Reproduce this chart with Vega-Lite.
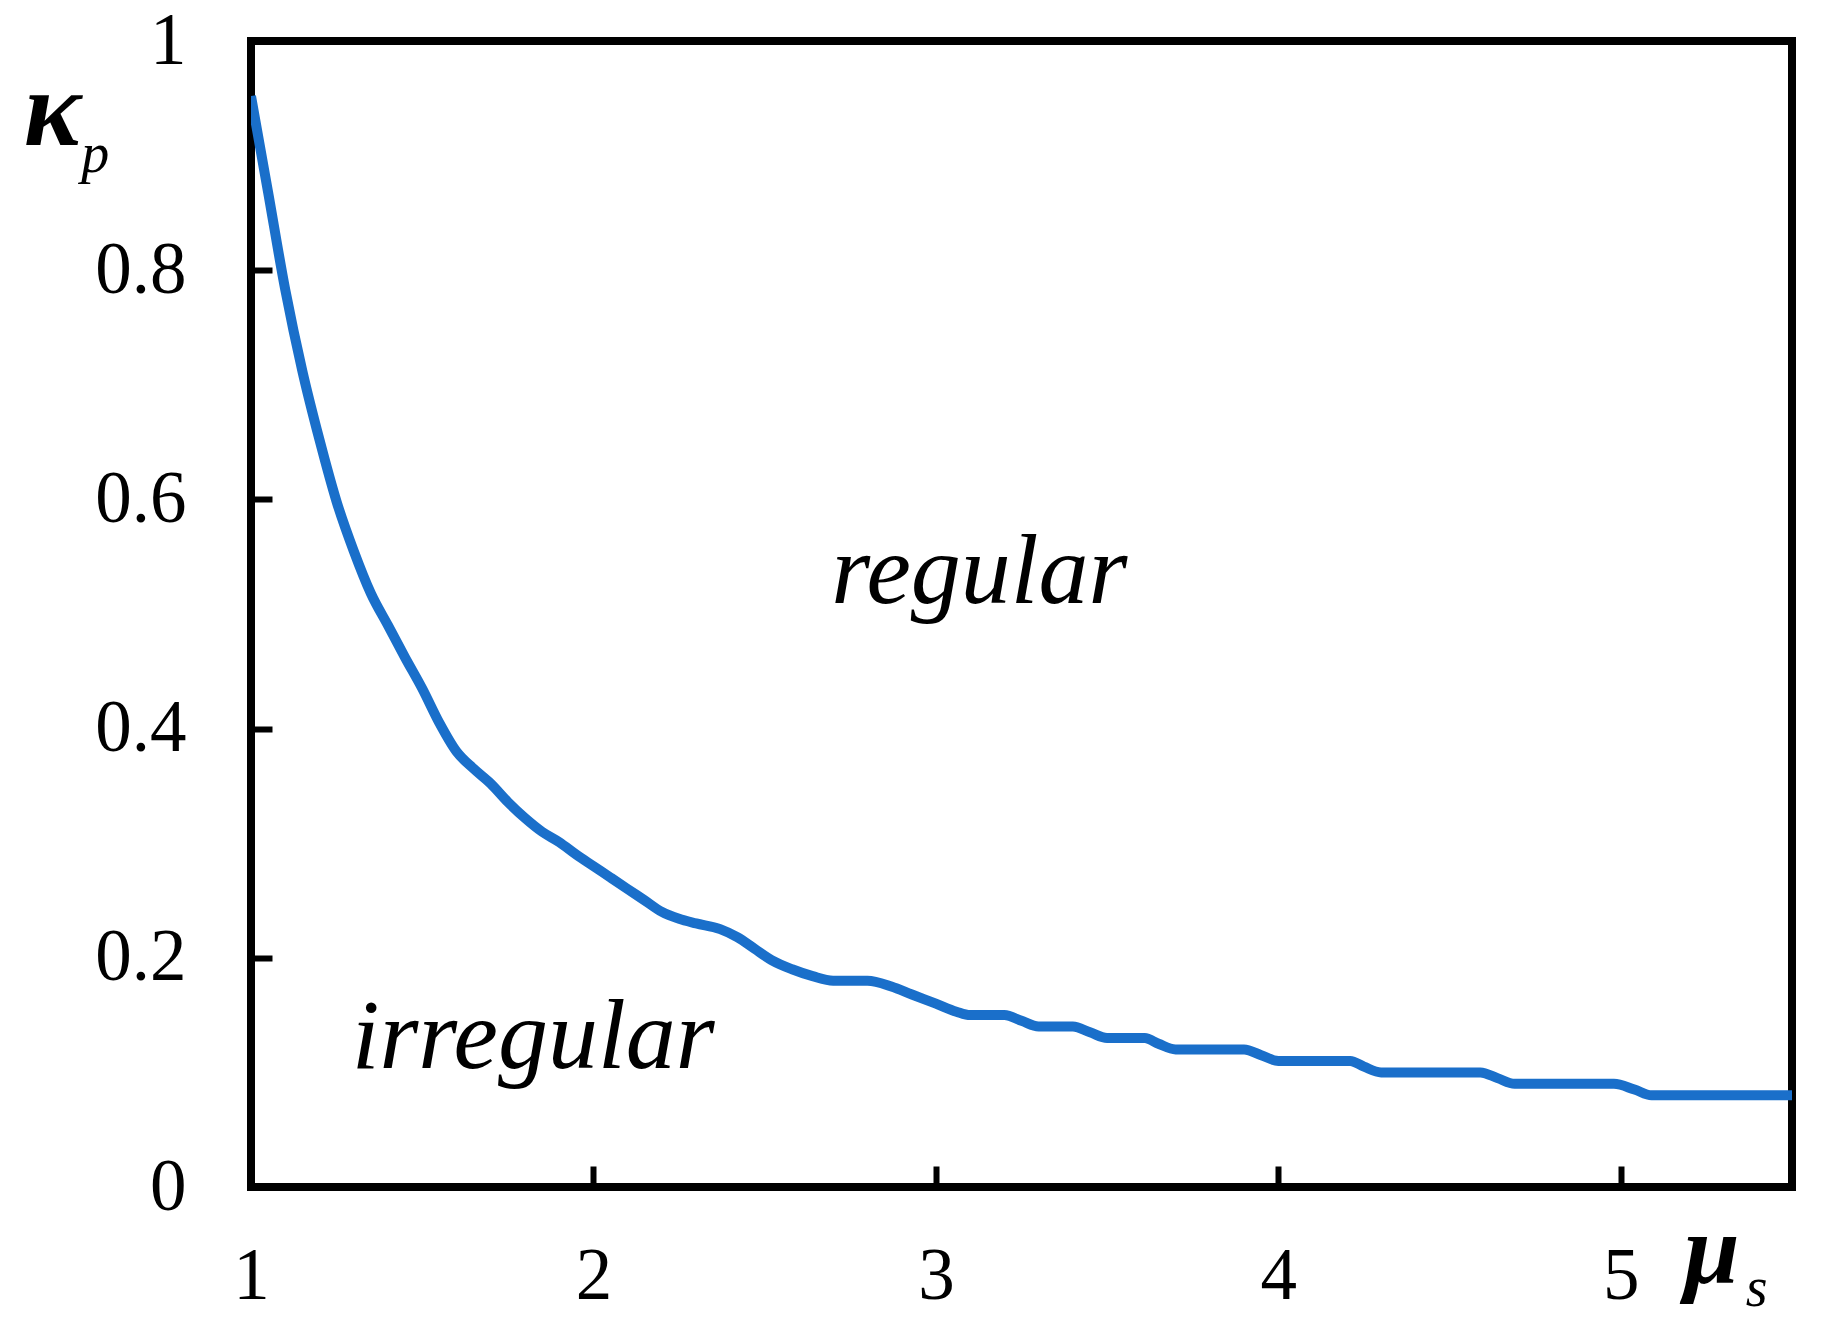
{
  "$schema": "https://vega.github.io/schema/vega-lite/v6.json",
  "width": 1541,
  "height": 1146,
  "autosize": "none",
  "padding": {"left": 251, "top": 41, "right": 33, "bottom": 148},
  "background": "white",
  "config": {
    "view": {"stroke": "black", "strokeWidth": 8},
    "axis": {
      "domain": false,
      "grid": false,
      "ticks": true,
      "tickColor": "black",
      "tickWidth": 6,
      "tickSize": -21,
      "labelFont": "Times New Roman, Liberation Serif, serif",
      "labelFontSize": 73,
      "labelColor": "black",
      "labelFlush": false,
      "labelOverlap": false,
      "title": null
    }
  },
  "datasets": {
    "curve": [
      {"mu": 1.00, "kappa": 0.952},
      {"mu": 1.05, "kappa": 0.868},
      {"mu": 1.10, "kappa": 0.783},
      {"mu": 1.15, "kappa": 0.712},
      {"mu": 1.20, "kappa": 0.652},
      {"mu": 1.25, "kappa": 0.598},
      {"mu": 1.30, "kappa": 0.555},
      {"mu": 1.35, "kappa": 0.518},
      {"mu": 1.40, "kappa": 0.49},
      {"mu": 1.45, "kappa": 0.462},
      {"mu": 1.50, "kappa": 0.435},
      {"mu": 1.55, "kappa": 0.405},
      {"mu": 1.60, "kappa": 0.38},
      {"mu": 1.65, "kappa": 0.365},
      {"mu": 1.70, "kappa": 0.352},
      {"mu": 1.75, "kappa": 0.336},
      {"mu": 1.80, "kappa": 0.322},
      {"mu": 1.85, "kappa": 0.31},
      {"mu": 1.90, "kappa": 0.301},
      {"mu": 1.95, "kappa": 0.29},
      {"mu": 2.00, "kappa": 0.28},
      {"mu": 2.05, "kappa": 0.27},
      {"mu": 2.10, "kappa": 0.26},
      {"mu": 2.15, "kappa": 0.25},
      {"mu": 2.20, "kappa": 0.24},
      {"mu": 2.25, "kappa": 0.234},
      {"mu": 2.30, "kappa": 0.23},
      {"mu": 2.37, "kappa": 0.225},
      {"mu": 2.42, "kappa": 0.218},
      {"mu": 2.47, "kappa": 0.208},
      {"mu": 2.52, "kappa": 0.198},
      {"mu": 2.58, "kappa": 0.19},
      {"mu": 2.64, "kappa": 0.184},
      {"mu": 2.70, "kappa": 0.18},
      {"mu": 2.80, "kappa": 0.18},
      {"mu": 2.87, "kappa": 0.175},
      {"mu": 2.93, "kappa": 0.168},
      {"mu": 3.00, "kappa": 0.16},
      {"mu": 3.06, "kappa": 0.153},
      {"mu": 3.10, "kappa": 0.15},
      {"mu": 3.20, "kappa": 0.15},
      {"mu": 3.25, "kappa": 0.145},
      {"mu": 3.30, "kappa": 0.14},
      {"mu": 3.40, "kappa": 0.14},
      {"mu": 3.45, "kappa": 0.135},
      {"mu": 3.50, "kappa": 0.13},
      {"mu": 3.61, "kappa": 0.13},
      {"mu": 3.65, "kappa": 0.125},
      {"mu": 3.70, "kappa": 0.12},
      {"mu": 3.90, "kappa": 0.12},
      {"mu": 3.95, "kappa": 0.115},
      {"mu": 4.00, "kappa": 0.11},
      {"mu": 4.21, "kappa": 0.11},
      {"mu": 4.25, "kappa": 0.105},
      {"mu": 4.30, "kappa": 0.10},
      {"mu": 4.59, "kappa": 0.10},
      {"mu": 4.64, "kappa": 0.095},
      {"mu": 4.69, "kappa": 0.09},
      {"mu": 4.98, "kappa": 0.09},
      {"mu": 5.04, "kappa": 0.085},
      {"mu": 5.09, "kappa": 0.08},
      {"mu": 5.50, "kappa": 0.08}
    ],
    "regions": [
      {"mu": 3.127, "kappa": 0.51, "text": "regular"},
      {"mu": 1.824, "kappa": 0.104, "text": "irregular"}
    ],
    "kappaSymbol": [
      {"mu": 0.42, "kappa": 0.909, "text": "κ"}
    ],
    "muSymbol": [
      {"mu": 5.266, "kappa": -0.084, "text": "μ"}
    ],
    "subscripts": [
      {"mu": 0.545, "kappa": 0.886, "text": "p"},
      {"mu": 5.397, "kappa": -0.104, "text": "s"}
    ]
  },
  "layer": [
    {
      "data": {"name": "curve"},
      "mark": {"type": "line", "color": "#1a6fca", "strokeWidth": 10, "interpolate": "monotone", "clip": true},
      "encoding": {
        "x": {
          "field": "mu", "type": "quantitative",
          "scale": {"domain": [1, 5.5], "nice": false, "zero": false},
          "axis": {"values": [1, 2, 3, 4, 5], "format": "~g", "labelPadding": 74, "labelBaseline": "top"}
        },
        "y": {
          "field": "kappa", "type": "quantitative",
          "scale": {"domain": [0, 1], "nice": false},
          "axis": {"values": [0, 0.2, 0.4, 0.6, 0.8, 1], "format": "~g", "labelPadding": 86}
        }
      }
    },
    {
      "data": {"name": "regions"},
      "mark": {"type": "text", "font": "Times New Roman, Liberation Serif, serif", "fontStyle": "italic", "fontSize": 100, "baseline": "alphabetic", "align": "center", "color": "black"},
      "encoding": {
        "x": {"field": "mu", "type": "quantitative"},
        "y": {"field": "kappa", "type": "quantitative"},
        "text": {"field": "text"}
      }
    },
    {
      "data": {"name": "kappaSymbol"},
      "mark": {"type": "text", "font": "Times New Roman, Liberation Serif, serif", "fontStyle": "italic", "fontWeight": "bold", "fontSize": 108, "baseline": "alphabetic", "align": "center", "color": "black"},
      "encoding": {
        "x": {"field": "mu", "type": "quantitative"},
        "y": {"field": "kappa", "type": "quantitative"},
        "text": {"field": "text"}
      }
    },
    {
      "data": {"name": "muSymbol"},
      "mark": {"type": "text", "font": "Times New Roman, Liberation Serif, serif", "fontStyle": "italic", "fontWeight": "bold", "fontSize": 100, "baseline": "alphabetic", "align": "center", "color": "black"},
      "encoding": {
        "x": {"field": "mu", "type": "quantitative"},
        "y": {"field": "kappa", "type": "quantitative"},
        "text": {"field": "text"}
      }
    },
    {
      "data": {"name": "subscripts"},
      "mark": {"type": "text", "font": "Times New Roman, Liberation Serif, serif", "fontStyle": "italic", "fontSize": 56, "baseline": "alphabetic", "align": "center", "color": "black"},
      "encoding": {
        "x": {"field": "mu", "type": "quantitative"},
        "y": {"field": "kappa", "type": "quantitative"},
        "text": {"field": "text"}
      }
    }
  ]
}
